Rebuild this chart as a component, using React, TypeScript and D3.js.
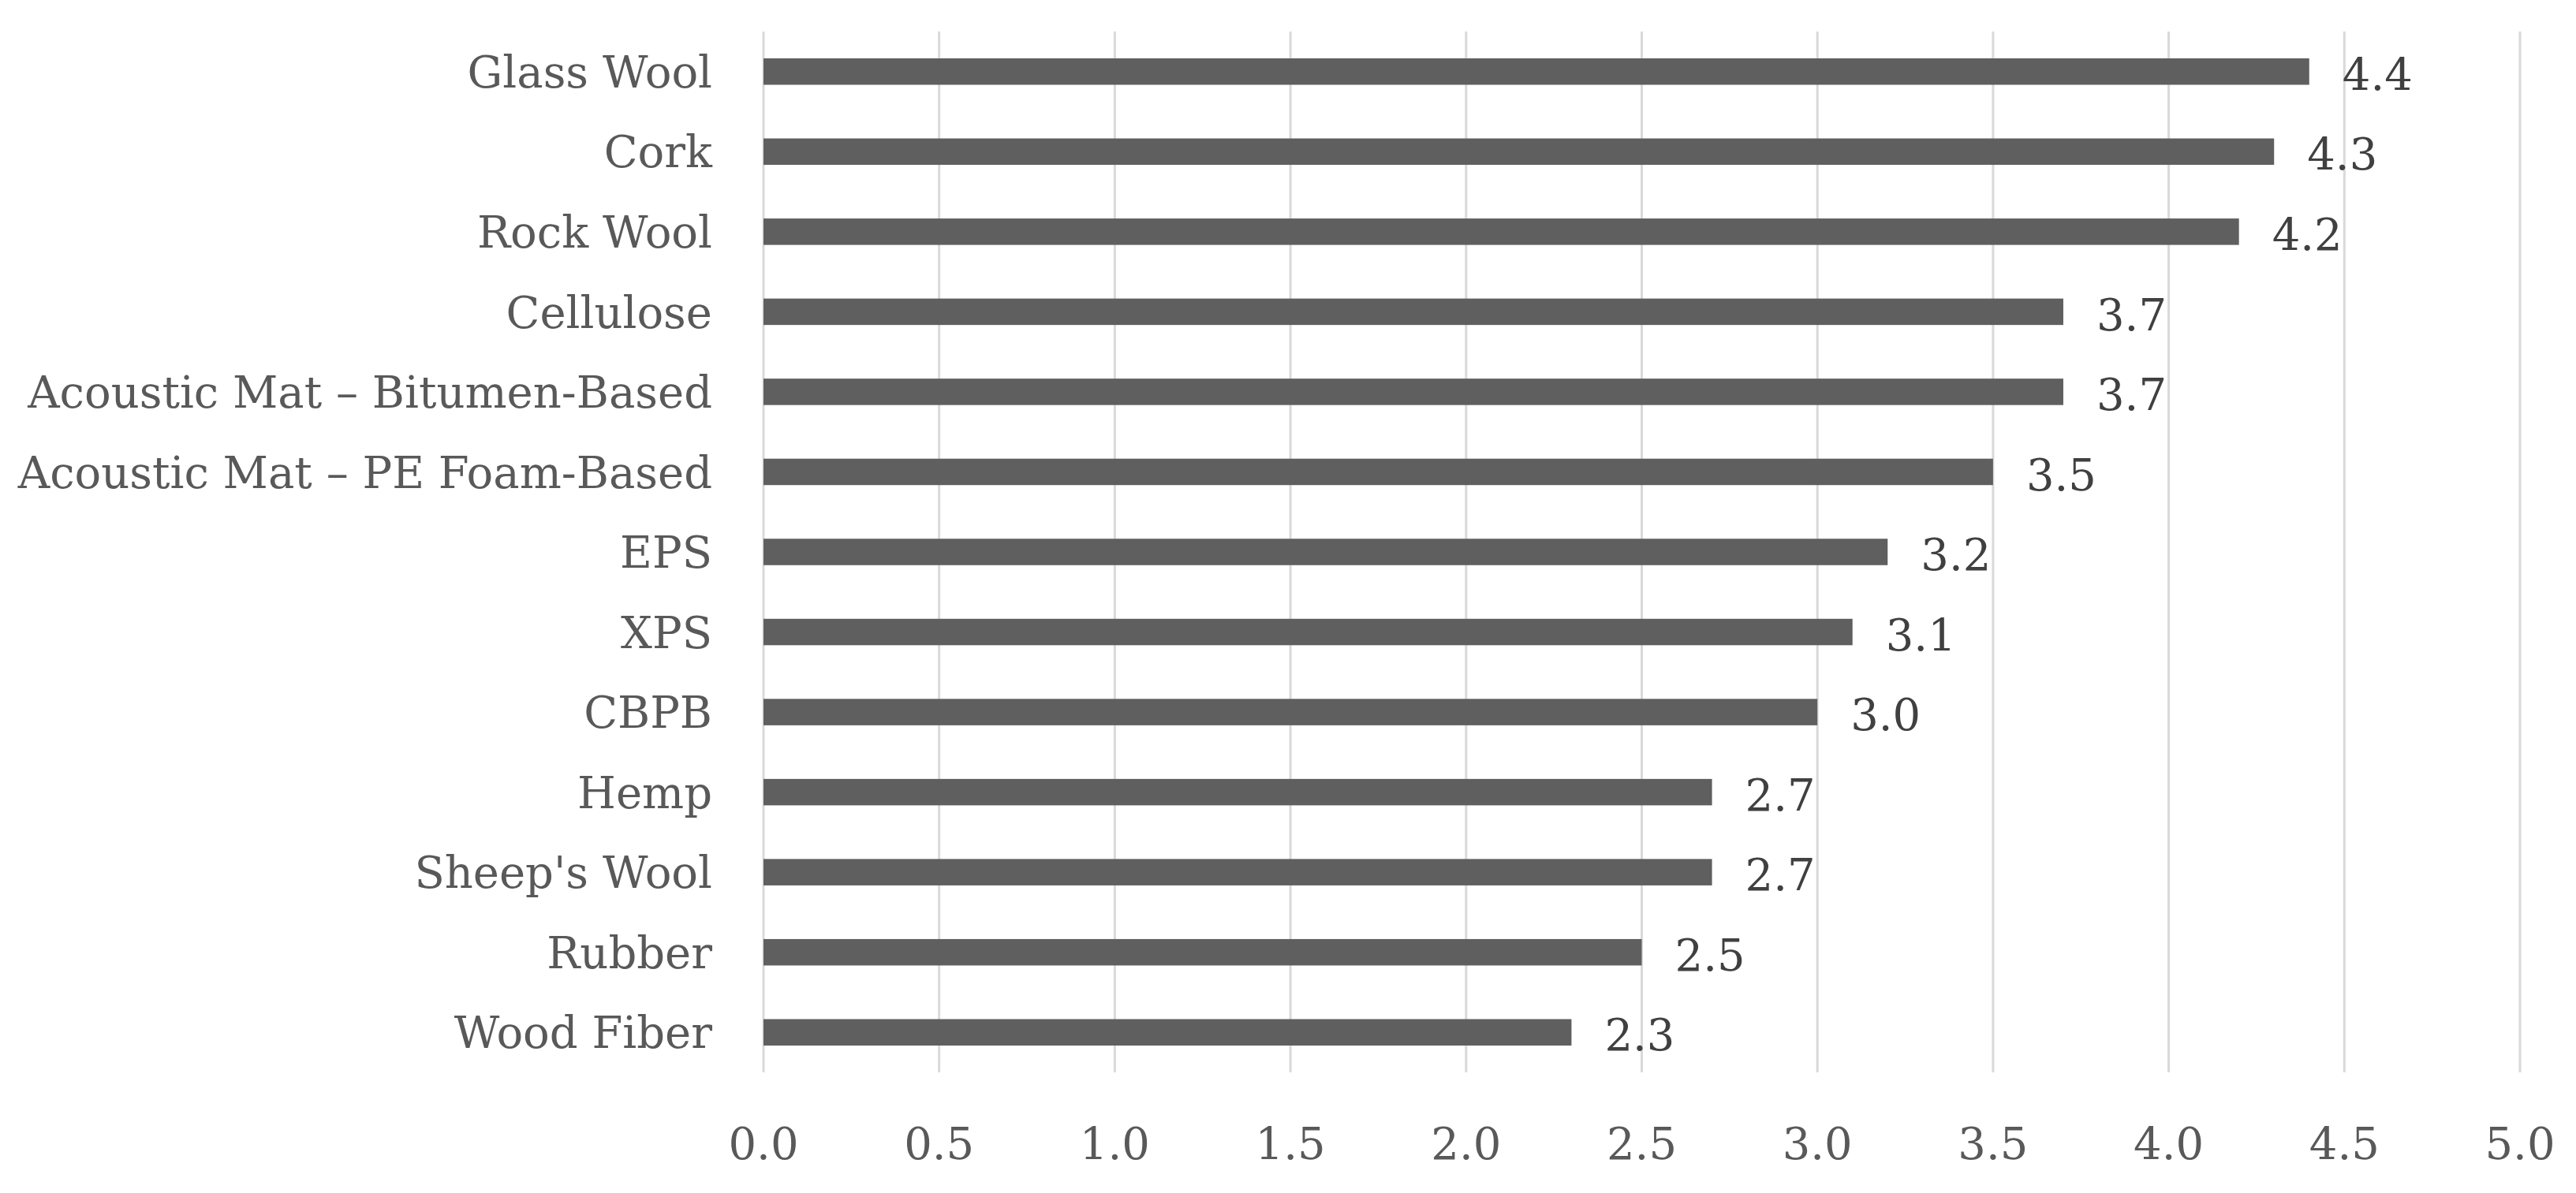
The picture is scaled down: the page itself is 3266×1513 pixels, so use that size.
import React, { useRef, useEffect } from 'react'
import * as d3 from 'd3'

const materials = [
  'Glass Wool',
  'Cork',
  'Rock Wool',
  'Cellulose',
  'Acoustic Mat – Bitumen-Based',
  'Acoustic Mat – PE Foam-Based',
  'EPS',
  'XPS',
  'CBPB',
  'Hemp',
  "Sheep's Wool",
  'Rubber',
  'Wood Fiber',
]
const scores = [4.4, 4.3, 4.2, 3.7, 3.7, 3.5, 3.2, 3.1, 3.0, 2.7, 2.7, 2.5, 2.3]
const xTicks = [0, 0.5, 1, 1.5, 2, 2.5, 3, 3.5, 4, 4.5, 5]

const W = 3266
const H = 1513
const FONT = '"DejaVu Serif", "Liberation Serif", serif'

export default function App() {
  const svgRef = useRef<SVGSVGElement>(null)

  useEffect(() => {
    if (!svgRef.current) return
    const svg = d3.select(svgRef.current)
    svg.selectAll('*').remove()

    const margin = { top: 40, right: 71, bottom: 153, left: 968 }
    const x = d3.scaleLinear().domain([0, 5]).range([margin.left, W - margin.right])
    const y = d3
      .scaleBand()
      .domain(materials)
      .range([margin.top, H - margin.bottom])
      .paddingInner(0.67)
      .paddingOuter(0.335)

    // gridlines
    svg
      .append('g')
      .selectAll('line')
      .data(xTicks)
      .join('line')
      .attr('x1', (d) => x(d))
      .attr('x2', (d) => x(d))
      .attr('y1', margin.top)
      .attr('y2', H - margin.bottom)
      .attr('stroke', '#d9d9d9')
      .attr('stroke-width', 3)

    // x tick labels
    svg
      .append('g')
      .selectAll('text')
      .data(xTicks)
      .join('text')
      .attr('x', (d) => x(d))
      .attr('y', 1450)
      .attr('dy', '0.36em')
      .attr('text-anchor', 'middle')
      .attr('font-family', FONT)
      .attr('font-size', 56)
      .attr('fill', '#595959')
      .text((d) => d.toFixed(1))

    const rows = materials.map((m, i) => ({ m, v: scores[i] }))

    // bars
    svg
      .append('g')
      .selectAll('rect')
      .data(rows)
      .join('rect')
      .attr('x', x(0))
      .attr('y', (d) => y(d.m)!)
      .attr('width', (d) => x(d.v) - x(0))
      .attr('height', y.bandwidth())
      .attr('fill', '#5f5f5f')

    // category labels
    svg
      .append('g')
      .selectAll('text')
      .data(rows)
      .join('text')
      .attr('x', 903)
      .attr('y', (d) => y(d.m)! + y.bandwidth() / 2)
      .attr('dy', '0.36em')
      .attr('text-anchor', 'end')
      .attr('font-family', FONT)
      .attr('font-size', 56)
      .attr('fill', '#595959')
      .text((d) => d.m)

    // value labels
    svg
      .append('g')
      .selectAll('text')
      .data(rows)
      .join('text')
      .attr('x', (d) => x(d.v) + 42)
      .attr('y', (d) => y(d.m)! + y.bandwidth() / 2 + 3)
      .attr('dy', '0.36em')
      .attr('font-family', FONT)
      .attr('font-size', 56)
      .attr('fill', '#404040')
      .text((d) => d.v.toFixed(1))
  }, [])

  return (
    <div style={{ position: 'absolute', left: 0, top: 0 }}>
      <svg ref={svgRef} width={W} height={H} style={{ display: 'block', background: '#fff' }} />
    </div>
  )
}
